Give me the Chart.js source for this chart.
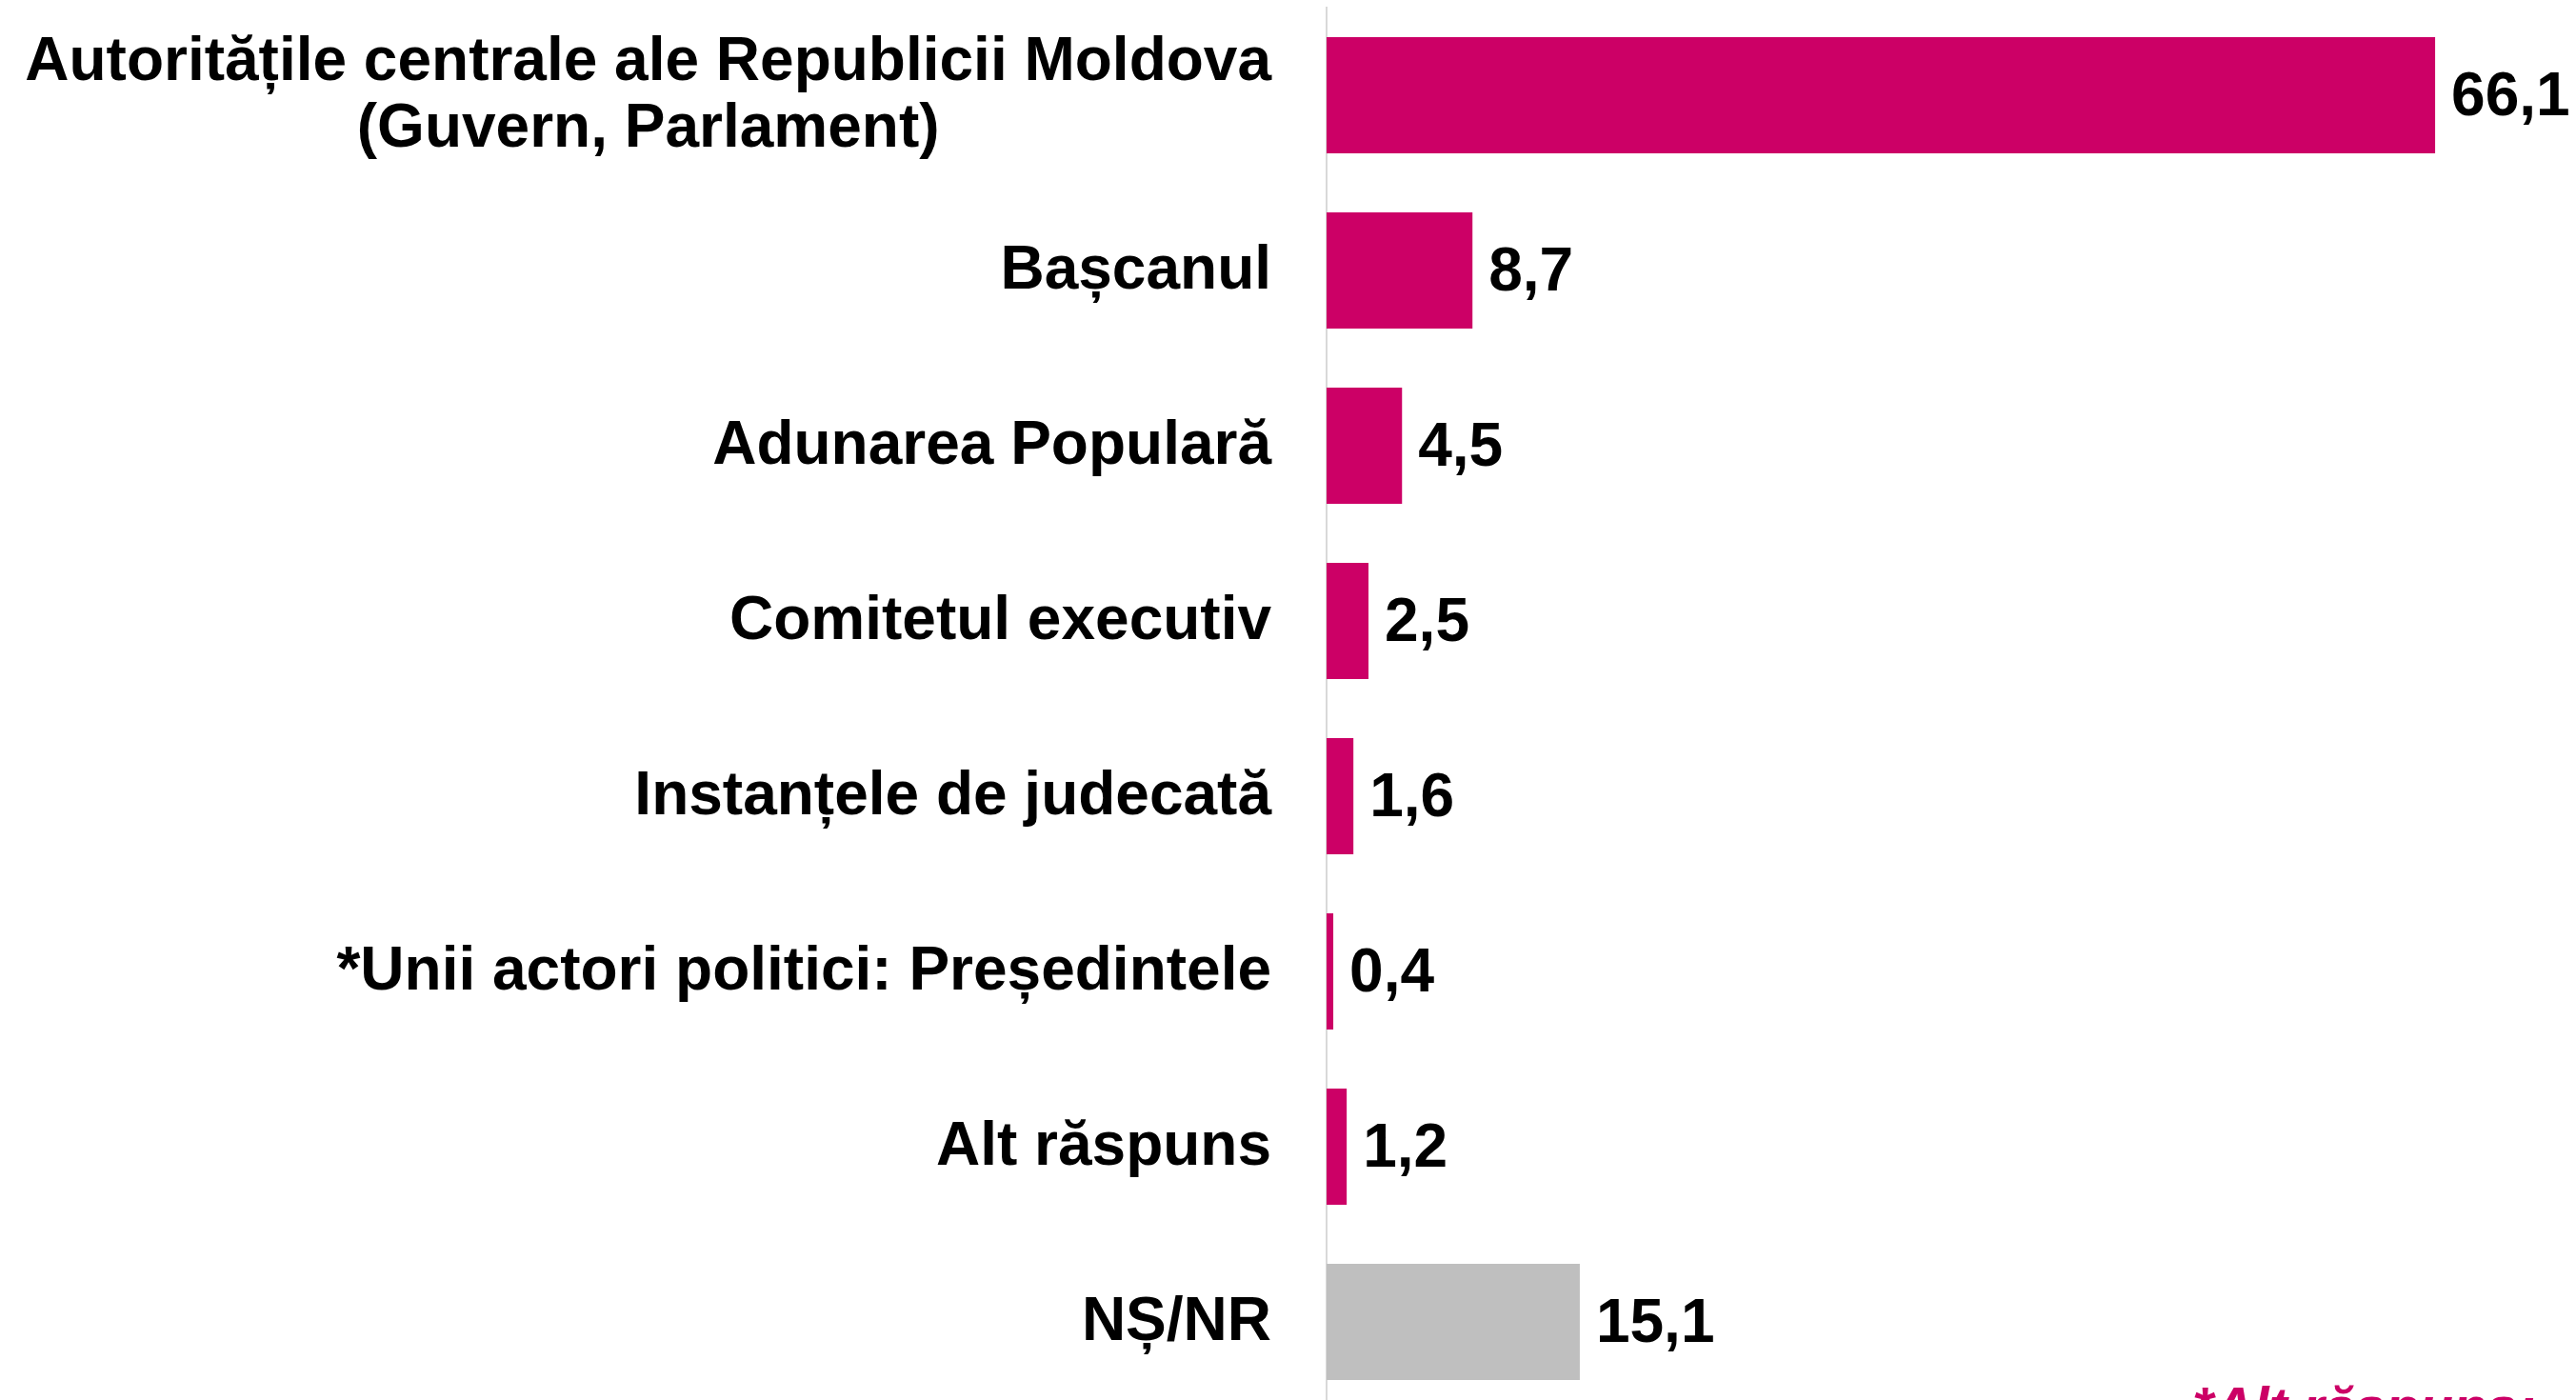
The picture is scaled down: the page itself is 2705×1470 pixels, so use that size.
<!DOCTYPE html>
<html lang="ro">
<head>
<meta charset="UTF-8">
<title>Autorități</title>
<script src="https://cdn.jsdelivr.net/npm/chart.js"></script>
<style>
  html, body {
    margin: 0;
    padding: 0;
    background: #ffffff;
    overflow: hidden;
  }
  .wrap {
    position: relative;
    width: 2705px;
    height: 1480px;
  }
</style>
</head>
<body>
<div class="wrap">
  <canvas id="chart"></canvas>
</div>
<script>
// Data
const categories = [
  ['Autoritățile centrale ale Republicii Moldova', '(Guvern, Parlament)'],
  'Bașcanul',
  'Adunarea Populară',
  'Comitetul executiv',
  'Instanțele de judecată',
  '*Unii actori politici: Președintele',
  'Alt răspuns',
  'NȘ/NR'
];
const values = [66.1, 8.7, 4.5, 2.5, 1.6, 0.4, 1.2, 15.1];
const footnote = '*Alt răspuns:';

const MAGENTA = '#CC0066';
const GREY = '#BFBFBF';
const FONT = '"Liberation Sans", Arial, sans-serif';
const LABEL_GAP = 58;   // space between category text and the axis line
const LINE_H = 70;

// category labels: right aligned, multi-line blocks centred on their widest line
const categoryLabels = {
  id: 'categoryLabels',
  afterDraw(chart) {
    const ctx = chart.ctx;
    const yScale = chart.scales.y;
    const right = chart.chartArea.left - LABEL_GAP;
    ctx.save();
    ctx.font = 'bold 64px ' + FONT;
    ctx.fillStyle = '#000000';
    ctx.textBaseline = 'middle';
    categories.forEach((label, i) => {
      const y = yScale.getPixelForValue(i) + 1;
      const lines = Array.isArray(label) ? label : [label];
      const maxW = Math.max(...lines.map(l => ctx.measureText(l).width));
      const top = y - (lines.length - 1) * LINE_H / 2;
      lines.forEach((line, k) => {
        if (lines.length > 1) {
          ctx.textAlign = 'center';
          ctx.fillText(line, right - maxW / 2, top + k * LINE_H);
        } else {
          ctx.textAlign = 'right';
          ctx.fillText(line, right, top);
        }
      });
    });
    ctx.restore();
  }
};

// value labels at the end of each bar, plus the cut-off footnote
const valueLabels = {
  id: 'valueLabels',
  afterDatasetsDraw(chart) {
    const ctx = chart.ctx;
    const meta = chart.getDatasetMeta(0);
    ctx.save();
    ctx.font = 'bold 64px ' + FONT;
    ctx.fillStyle = '#000000';
    ctx.textAlign = 'left';
    ctx.textBaseline = 'middle';
    meta.data.forEach((bar, i) => {
      const txt = values[i].toFixed(1).replace('.', ',');
      ctx.fillText(txt, bar.x + 17, bar.y + 3);
    });
    ctx.restore();
  },
  afterDraw(chart) {
    const ctx = chart.ctx;
    ctx.save();
    ctx.font = 'italic bold 58px ' + FONT;
    ctx.fillStyle = MAGENTA;
    ctx.textAlign = 'left';
    ctx.textBaseline = 'alphabetic';
    ctx.fillText(footnote, 2302, 1497);
    ctx.restore();
  }
};

new Chart(document.getElementById('chart'), {
  type: 'bar',
  data: {
    labels: categories,
    datasets: [{
      data: values,
      backgroundColor: (c) => c.dataIndex === values.length - 1 ? GREY : MAGENTA,
      borderWidth: 0,
      categoryPercentage: 1,
      barPercentage: 0.663
    }]
  },
  options: {
    indexAxis: 'y',
    responsive: true,
    maintainAspectRatio: false,
    animation: false,
    layout: { padding: { top: 8, right: 0, bottom: 0, left: 0 } },
    plugins: {
      legend: { display: false },
      tooltip: { enabled: false }
    },
    scales: {
      x: {
        display: false,
        min: 0,
        max: 74.5
      },
      y: {
        afterFit(scale) {
          scale.width = 1393;
          scale.paddingTop = 0;
          scale.paddingBottom = 0;
        },
        grid: { display: false, drawTicks: false },
        border: { display: true, color: '#D9D9D9', width: 2 },
        ticks: { display: false }
      }
    }
  },
  plugins: [categoryLabels, valueLabels]
});
</script>
</body>
</html>
